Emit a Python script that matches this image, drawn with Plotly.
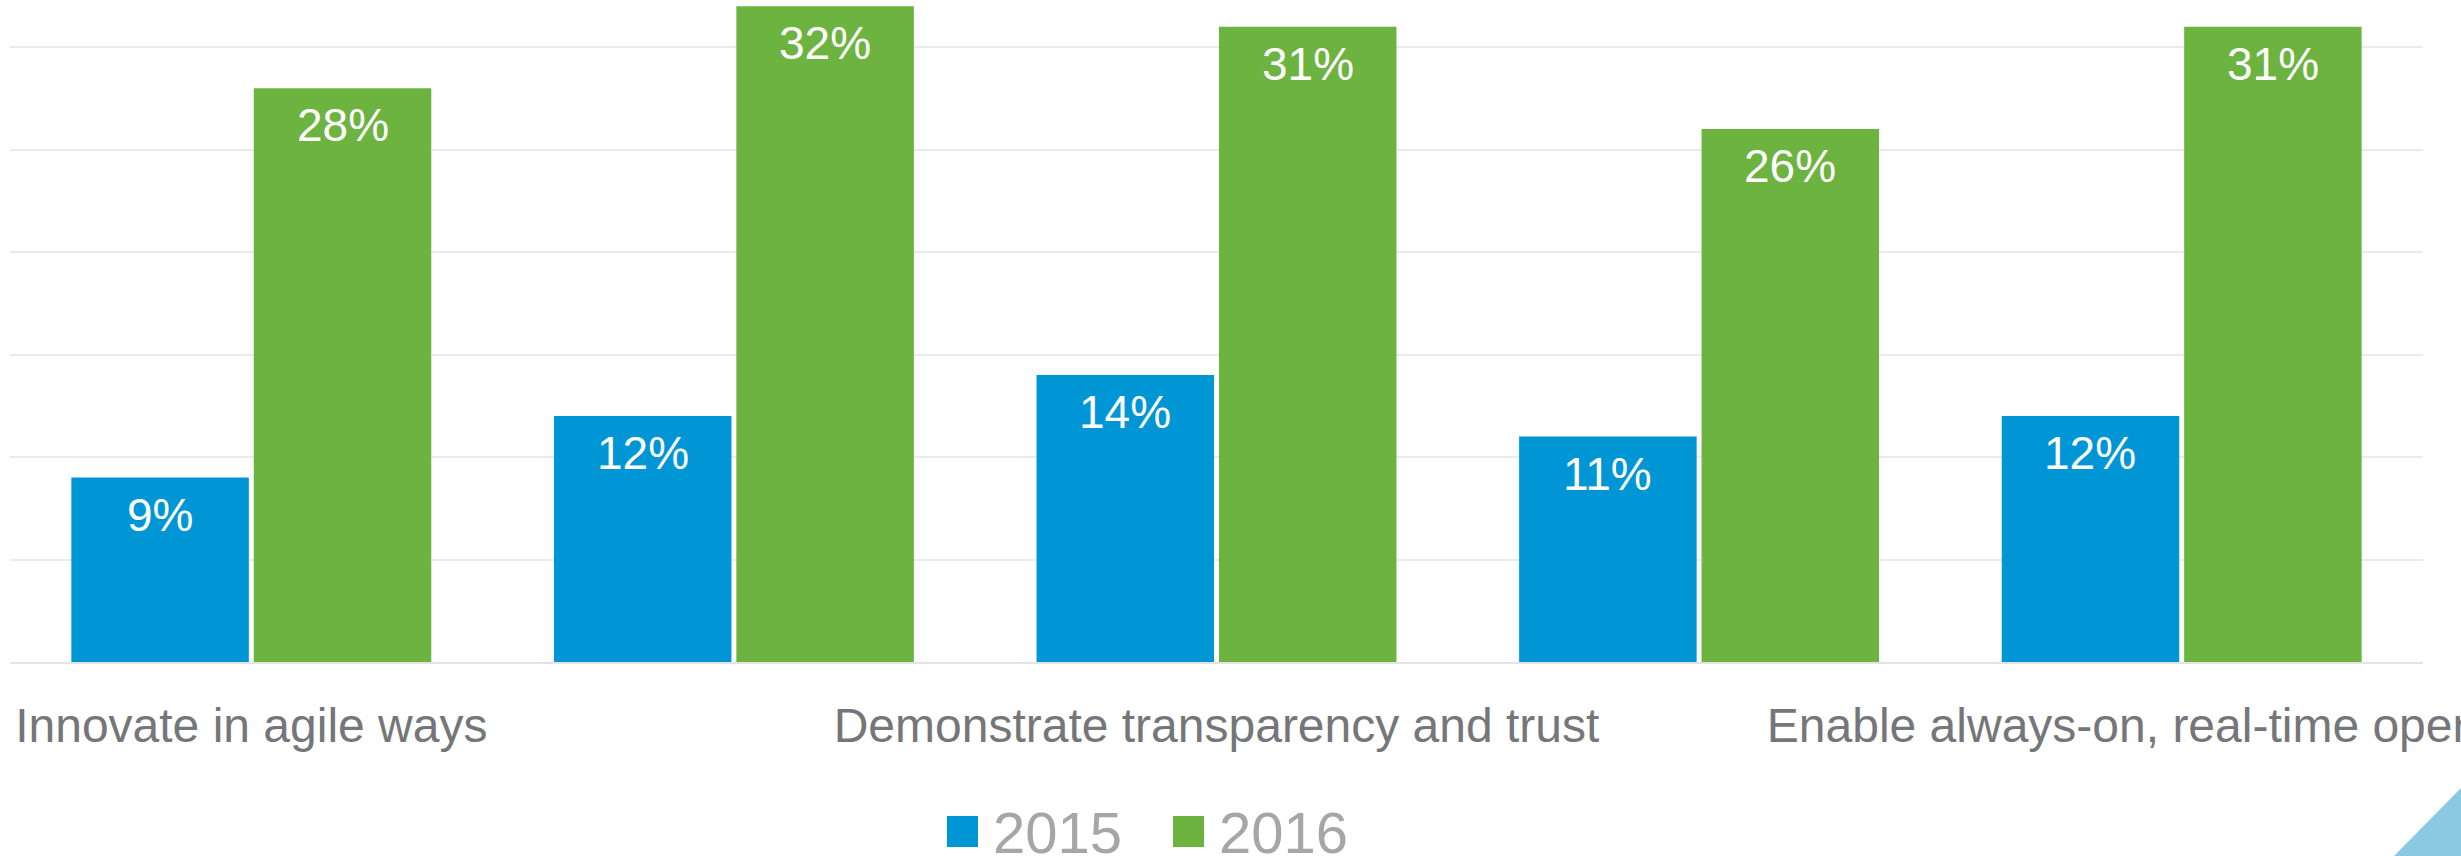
import plotly.graph_objects as go

categories = ["Innovate in agile ways", "Category 2", "Demonstrate transparency and trust",
              "Category 4", "Enable always-on, real-time operations"]
shown_labels = ["Innovate in agile ways", "", "Demonstrate transparency and trust", "",
                "Enable always-on, real-time operations"]
series_names = ["2015", "2016"]
values_2015 = [9, 12, 14, 11, 12]
values_2016 = [28, 32, 31, 26, 31]
colors = ["#0096d6", "#6db33f"]

W, H = 2461, 856
ml, mr, mt, mb = 10, 38, 0, 194
BARGAP = 0.244
BARGROUPGAP = 0.027

x_idx = list(range(len(categories)))
all_series = [values_2015, values_2016]

fig = go.Figure()
for name, vals, col in zip(series_names, all_series, colors):
    fig.add_trace(go.Bar(
        x=x_idx, y=vals, name=name, marker=dict(color=col, line=dict(width=0)),
        showlegend=False, hoverinfo="skip",
    ))

# data labels just inside the top of each bar
slot = (1 - BARGAP) / len(all_series)
for k, vals in enumerate(all_series):
    off = (k - (len(all_series) - 1) / 2) * slot
    for i, v in zip(x_idx, vals):
        fig.add_annotation(x=i + off, y=v, xref="x", yref="y", text=f"{v}%",
                           showarrow=False, yanchor="top", xanchor="center", yshift=-9,
                           font=dict(family="Liberation Sans, Arial", size=46, color="white"))

pw = W - ml - mr
ph = H - mt - mb
def px(xp): return (xp - ml) / pw
def py(yp): return (H - mb - yp) / ph

# decorative corner triangle (slide background)
fig.add_shape(type="path", xref="paper", yref="paper",
              path=f"M {px(2394)} {py(856)} L {px(2461)} {py(788)} L {px(2461)} {py(856)} Z",
              fillcolor="#89c9e1", line=dict(width=0), layer="below")

# legend (large square swatches)
legend_x = [947, 1173]
for name, col, lx in zip(series_names, colors, legend_x):
    fig.add_shape(type="rect", xref="paper", yref="paper",
                  x0=px(lx), x1=px(lx + 31), y0=py(847), y1=py(816),
                  fillcolor=col, line=dict(width=0))
    fig.add_annotation(xref="paper", yref="paper", x=px(lx + 44), y=py(832),
                       xanchor="left", yanchor="middle", text=name, showarrow=False,
                       font=dict(family="Liberation Sans, Arial", size=58, color="#a6a6a6"))

fig.update_layout(
    width=W, height=H,
    margin=dict(l=ml, r=mr, t=mt, b=mb),
    paper_bgcolor="white", plot_bgcolor="white",
    barmode="group", bargap=BARGAP, bargroupgap=BARGROUPGAP,
    font=dict(family="Liberation Sans, Arial"),
    showlegend=False,
)
fig.update_xaxes(
    tickmode="array", tickvals=x_idx, ticktext=shown_labels,
    range=[-0.5, len(categories) - 0.5],
    tickfont=dict(size=48, color="#75767a"), ticks="", showgrid=False,
    showline=True, linecolor="#e3e3e3", linewidth=2, zeroline=False,
    ticklabelstandoff=20, tickangle=0, automargin=False, ticklabeloverflow="allow",
)
fig.update_yaxes(
    range=[0, 32.3], dtick=5, tick0=0, showticklabels=False,
    showgrid=True, gridcolor="#ebebeb", gridwidth=2, zeroline=False,
    showline=False, automargin=False,
)

fig.write_html("out.html")
